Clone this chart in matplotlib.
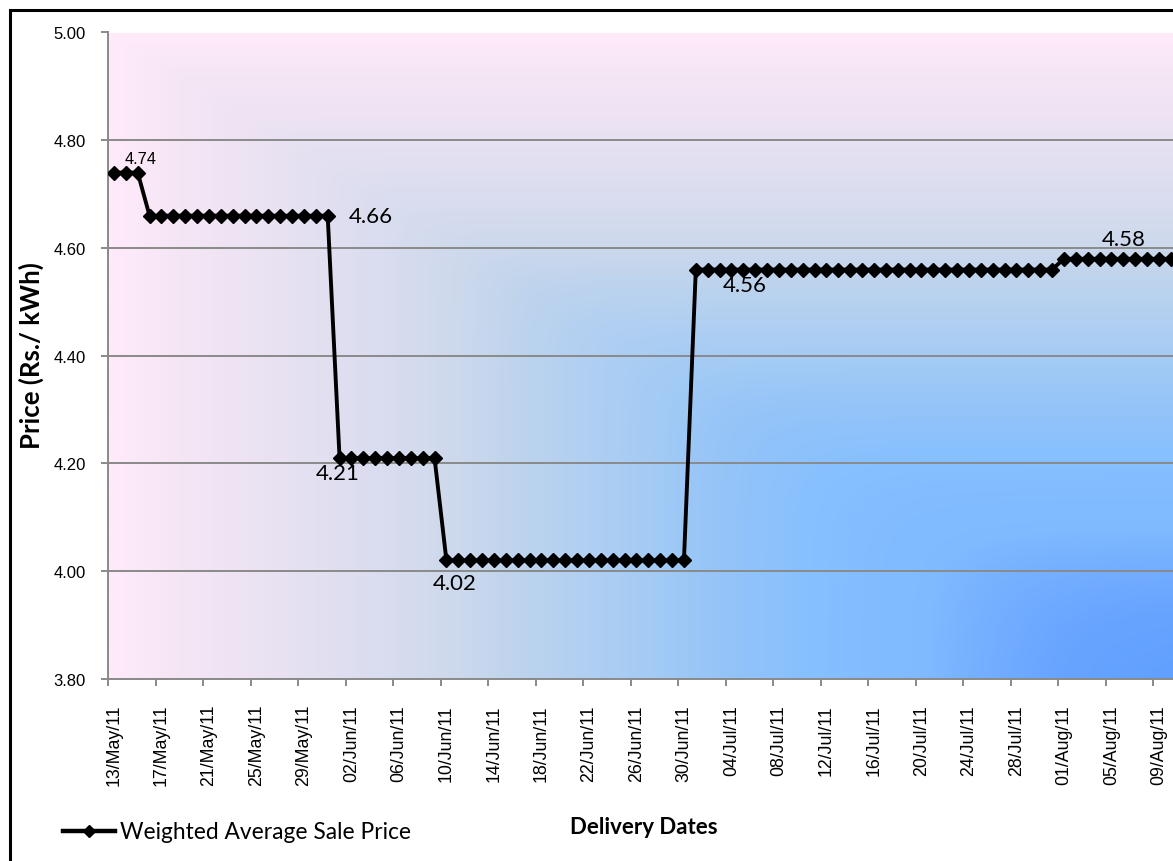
import numpy as np
import pandas as pd
import matplotlib
matplotlib.use("Agg")
import matplotlib.pyplot as plt
import matplotlib.dates as mdates
from matplotlib.colors import LinearSegmentedColormap, to_rgb
from matplotlib.patches import Rectangle
from matplotlib.lines import Line2D
from matplotlib.ticker import FixedLocator, FixedFormatter, NullFormatter

# Daily weighted average sale price (Rs./kWh), 13 May 2011 onward
price = [
    4.74, 4.74, 4.74,
    4.66, 4.66, 4.66, 4.66, 4.66, 4.66, 4.66, 4.66,
    4.66, 4.66, 4.66, 4.66, 4.66, 4.66, 4.66, 4.66,
    4.21, 4.21, 4.21, 4.21, 4.21, 4.21, 4.21, 4.21, 4.21,
    4.02, 4.02, 4.02, 4.02, 4.02, 4.02, 4.02, 4.02, 4.02, 4.02, 4.02,
    4.02, 4.02, 4.02, 4.02, 4.02, 4.02, 4.02, 4.02, 4.02, 4.02,
    4.56, 4.56, 4.56, 4.56, 4.56, 4.56, 4.56, 4.56, 4.56, 4.56, 4.56,
    4.56, 4.56, 4.56, 4.56, 4.56, 4.56, 4.56, 4.56, 4.56, 4.56, 4.56,
    4.56, 4.56, 4.56, 4.56, 4.56, 4.56, 4.56, 4.56, 4.56,
    4.58, 4.58, 4.58, 4.58, 4.58, 4.58, 4.58, 4.58, 4.58, 4.58,
]
start_date = "2011-05-13"
series_name = "Weighted Average Sale Price"
y_ticks = [3.80, 4.00, 4.20, 4.40, 4.60, 4.80, 5.00]
x_title = "Delivery Dates"
y_title = "Price (Rs./ kWh)"
# points that carry a value label
labelled_points = [2, 18, 19, 28, 53, 85]

dates = pd.date_range(start_date, periods=len(price), freq="D")

W, H, DPI = 1173, 862, 100
fig = plt.figure(figsize=(W / DPI, H / DPI), dpi=DPI)
fig.patch.set_facecolor("white")

ax_l, ax_r, ax_t, ax_b = 108, 1173, 33.5, 680
ax = fig.add_axes([ax_l / W, 1 - ax_b / H, (ax_r - ax_l) / W, (ax_b - ax_t) / H])

# plot-area gradient: pink at the left/top edges to blue at the lower right
stops = [(0.00, "#ffeafa"), (0.064, "#f5e6f5"), (0.13, "#ede3f3"),
         (0.255, "#d9ddef"), (0.32, "#cfd9ec"), (0.38, "#bfd4ed"),
         (0.45, "#b0cff2"), (0.51, "#a3cbf5"), (0.575, "#95c4f8"),
         (0.66, "#86c0ff"), (0.77, "#7fb9ff"), (0.83, "#72adff"),
         (0.89, "#67a4ff"), (1.00, "#5f9eff")]
cmap = LinearSegmentedColormap.from_list("bg", [(p, to_rgb(c)) for p, c in stops])
gx = np.linspace(0, 1, 600)
gy = np.linspace(0, 1, 400)
U, V = np.meshgrid(gx, gy)
p = 16.0
T = (np.maximum(U, 1e-4) ** -p + np.maximum(V, 1e-4) ** -p) ** (-1 / p)
ax.imshow(T, cmap=cmap, vmin=0, vmax=1, extent=[0, 1, 0, 1], origin="upper",
          transform=ax.transAxes, aspect="auto", zorder=0, interpolation="bilinear")

x0 = mdates.date2num(dates[0])
xs = mdates.date2num(dates) + 0.5
day_px = 11.875
ax.set_xlim(x0, x0 + (ax_r - ax_l) / day_px)
ax.set_ylim(3.8, 5.0)

ax.plot(xs, price, color="black", lw=2.8, marker="D", markersize=7.4,
        markerfacecolor="black", markeredgecolor="black", zorder=3,
        solid_joinstyle="miter", clip_on=True)

# grid and spines
ax.set_yticks(y_ticks)
ax.set_yticklabels([f"{v:.2f}" for v in y_ticks])
ax.yaxis.grid(True, color="#8a8a8a", lw=1.4, zorder=1)
ax.set_axisbelow(True)
for s in ["top", "right"]:
    ax.spines[s].set_visible(False)
for s in ["left", "bottom"]:
    ax.spines[s].set_color("#8a8a8a")
    ax.spines[s].set_linewidth(1.4)

# date labels sit in the middle of each day slot, tick marks on the slot edges
tick_dates = dates[::4]
tick_pos = mdates.date2num(tick_dates)
ax.xaxis.set_major_locator(FixedLocator(tick_pos + 0.5))
ax.xaxis.set_major_formatter(FixedFormatter([d.strftime("%d/%b/%y") for d in tick_dates]))
ax.xaxis.set_minor_locator(FixedLocator(tick_pos))
ax.xaxis.set_minor_formatter(NullFormatter())
ax.tick_params(axis="x", which="major", length=0, pad=18, labelrotation=90,
               labelsize=12.8)
ax.tick_params(axis="x", which="minor", length=5, width=1.4, color="#8a8a8a",
               direction="out")
ax.tick_params(axis="y", length=5, width=1.4, color="#8a8a8a", direction="out",
               pad=11, labelsize=12)
for lab in ax.get_xticklabels() + ax.get_yticklabels():
    lab.set_family("Liberation Sans")

# value labels
offsets = {2: (3, -14, "Liberation Sans", 11.8),
           18: (43, 0, "Lato", 16),
           19: (-2, 15, "Lato", 16),
           28: (8, 23, "Lato", 16),
           53: (1, 15.5, "Lato", 16),
           85: (0, -20, "Lato", 16)}
for i in labelled_points:
    dx, dy, fam, fs = offsets[i]
    ax.annotate(f"{price[i]:.2f}", xy=(xs[i], price[i]), xytext=(dx, -dy),
                textcoords="offset pixels", ha="center", va="center",
                fontsize=fs, family=fam, color="black", zorder=4)

# axis titles
fig.text(31 / W, 1 - 356 / H, y_title, rotation=90, ha="center", va="center",
         fontsize=18.5, family="Lato", fontweight="bold")
fig.text(644 / W, 1 - 828 / H, x_title, ha="center", va="center",
         fontsize=16, family="Lato", fontweight="bold")

# legend
handle = Line2D([], [], color="black", lw=3.2, marker="D", markersize=6.5)
fig.legend([handle], [series_name], loc="center left",
           bbox_to_anchor=(63 / W, 1 - 833 / H), frameon=False,
           handlelength=2.3, handletextpad=0.2, borderpad=0, borderaxespad=0,
           prop={"family": "Lato", "size": 16.4})

# chart border
fig.add_artist(Rectangle((10 / W, -0.1), 1.2, 1.1 - 10.5 / H,
                         transform=fig.transFigure, fill=False,
                         edgecolor="black", lw=2.2, clip_on=False))

fig.savefig("out.png", dpi=DPI)
